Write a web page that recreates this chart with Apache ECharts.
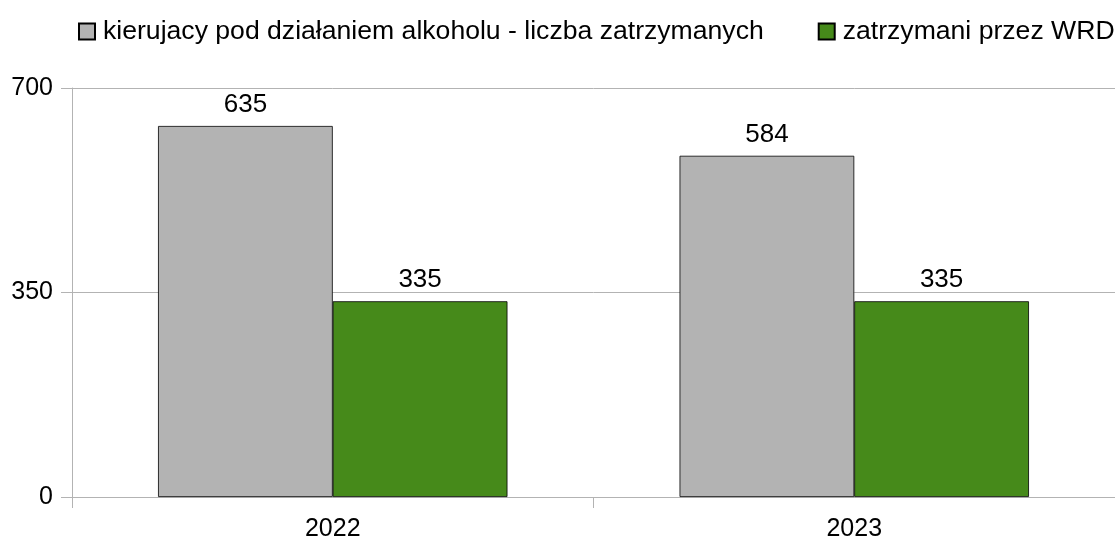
<!DOCTYPE html>
<html>
<head>
<meta charset="utf-8">
<script src="https://cdn.jsdelivr.net/npm/echarts@6/dist/echarts.min.js"></script>
<style>
  html, body { margin: 0; padding: 0; background: #fff; }
  #chart { width: 1115px; height: 542px; }
</style>
</head>
<body>
<div id="chart"></div>
<script>
// dane wykresu
var years = ['2022', '2023'];
var alkohol = [635, 584];
var wrd = [335, 335];
var seriesNames = ['kierujacy pod działaniem alkoholu - liczba zatrzymanych', 'zatrzymani przez WRD'];

var chart = echarts.init(document.getElementById('chart'));

var labelStyle = {
  show: true,
  position: 'top',
  distance: 8,
  color: '#000',
  fontSize: 26,
  fontFamily: 'Liberation Sans'
};

var option = {
  animation: false,
  textStyle: { fontFamily: 'Liberation Sans' },
  legend: {
    top: 18,
    left: 78,
    padding: 0,
    itemWidth: 16,
    itemHeight: 16,
    itemGap: 54,
    icon: 'rect',
    textStyle: { fontSize: 26.6, color: '#000', fontFamily: 'Liberation Sans', padding: [0, 0, 0, 3] },
    data: seriesNames
  },
  grid: {
    left: 72,
    right: 0,
    top: 88,
    bottom: 45,
    containLabel: false
  },
  xAxis: {
    type: 'category',
    data: years,
    axisLine: { lineStyle: { color: '#b3b3b3' } },
    axisTick: { show: true, length: 11, lineStyle: { color: '#b3b3b3' } },
    axisLabel: { fontSize: 25, color: '#000', margin: 20 }
  },
  yAxis: {
    type: 'value',
    min: 0,
    max: 700,
    interval: 350,
    axisLine: { show: true, lineStyle: { color: '#b3b3b3' } },
    axisTick: { show: true, length: 11, lineStyle: { color: '#b3b3b3' } },
    axisLabel: { fontSize: 25, color: '#000', margin: 19 },
    splitLine: { lineStyle: { color: '#b3b3b3' } }
  },
  series: [{
    name: seriesNames[0],
    type: 'bar',
    data: alkohol,
    barGap: '0%',
    barCategoryGap: '33%',
    itemStyle: { color: '#b3b3b3', borderColor: '#000', borderWidth: 0.8 },
    label: labelStyle
  }, {
    name: seriesNames[1],
    type: 'bar',
    data: wrd,
    itemStyle: { color: '#468a1a', borderColor: '#000', borderWidth: 0.8 },
    label: labelStyle
  }]
};

chart.setOption(option);
</script>
</body>
</html>
